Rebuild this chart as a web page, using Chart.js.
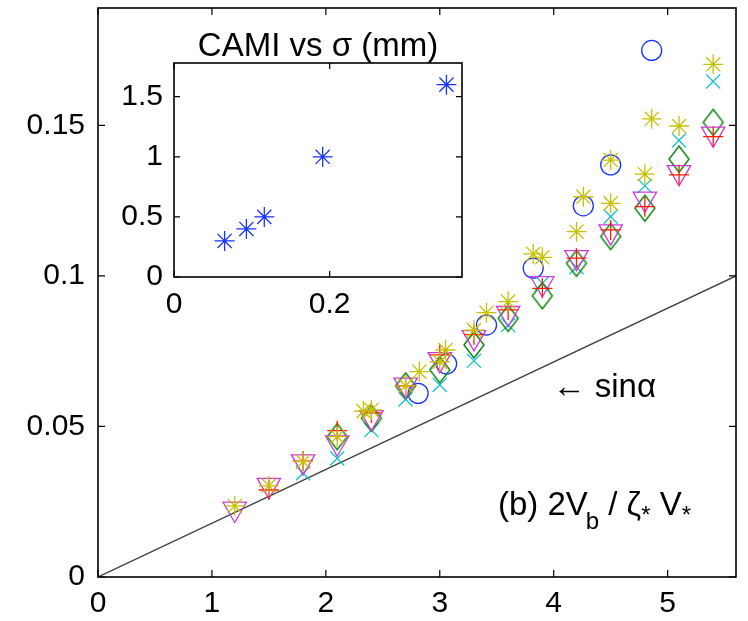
<!DOCTYPE html>
<html><head><meta charset="utf-8">
<script src="https://cdn.jsdelivr.net/npm/chart.js@4.4.1/dist/chart.umd.min.js"></script>
<style>
html,body{margin:0;padding:0;background:#fff;}
#wrap{position:relative;width:748px;height:621px;overflow:hidden;}
#main{position:absolute;left:0;top:0;}
#inset{position:absolute;left:100px;top:0;}
</style></head><body>
<div id="wrap"><canvas id="main" width="748" height="621"></canvas><canvas id="inset" width="380" height="330"></canvas></div>
<script>
// ---- main panel data (null = no visible mark) ----
const gridX      = [1.2, 1.5, 1.8, 2.1, 2.4, 2.7, 3.0, 3.3, 3.6, 3.9, 4.2, 4.5, 4.8, 5.1, 5.4];
const asteriskY  = [0.0236,0.0303,0.0383,0.0466,0.0555,0.0635,0.0715,0.0820,0.0915,0.1062,0.1147,0.1241,0.1338,0.1498,0.1703];
const xmarkY     = [null,null,0.0345,0.0394,0.0488,0.0590,0.0638,0.0718,0.0837,0.0976,0.1029,0.1197,0.1299,0.1450,0.1646];
const diamondY   = [null,null,null,0.0466,0.0527,0.0635,0.0688,0.0771,0.0859,0.0934,0.1042,0.1131,0.1225,0.1388,0.1510];
const plusY      = [null,0.0289,0.0385,0.0486,0.0545,0.0635,0.0738,0.0805,0.0887,0.0959,0.1059,0.1153,0.1230,0.1336,0.1463];
const triangleY  = [0.0226,0.0305,0.0383,0.0446,0.0530,0.0638,0.0723,0.0796,0.0876,0.0975,0.1062,0.1147,0.1256,0.1344,0.1472];
const circleX    = [2.81, 3.06, 3.41, 3.82, 4.26, 4.50, 4.86];
const circleY    = [0.0610,0.0708,0.0837,0.1026,0.1233,0.1369,0.1749];
const asterisk2X = [2.33, 2.82, 3.05, 3.41, 3.82, 4.26, 4.50, 4.86];
const asterisk2Y = [0.0551,0.0682,0.0754,0.0878,0.1073,0.1263,0.1385,0.1522];
const sinX = [0, 5.6];
const sinY = [0, 0.1];
const mainXTicks = [0, 1, 2, 3, 4, 5];
const mainYTicks = [0, 0.05, 0.1, 0.15];
// ---- inset data ----
const sigmaMM = [0.065, 0.093, 0.116, 0.191, 0.350];
const cami    = [0.30, 0.40, 0.50, 1.00, 1.60];
const insetXTicks = [0, 0.2];
const insetYTicks = [0, 0.5, 1, 1.5];

const FONT = "'Liberation Sans', Arial, Helvetica, sans-serif";
const COL = {blue:'#1733ff', green:'#0a800a', red:'#ff1a00', cyan:'#10c4cc', magenta:'#c83cd6', yellow:'#c8c000', line:'#404040'};

function pts(xs, ys){ return xs.map((x,i)=>({x:x, y:ys[i]})).filter(p=>p.y !== null); }
function fmt(v){ return String(parseFloat(Number(v).toFixed(4))); }

// tall diamond marker like MATLAB 'd'
function diamondImg(color){
  const c = document.createElement('canvas'); c.width = 24; c.height = 30;
  const g = c.getContext('2d'); g.strokeStyle = color; g.lineWidth = 1.4;
  g.beginPath(); g.moveTo(2,15); g.lineTo(12,2); g.lineTo(22,15); g.lineTo(12,28); g.closePath(); g.stroke();
  return c;
}

function markerSet(data, style, color, r, extra){
  return Object.assign({data:data, pointStyle:style, pointRadius:r, pointHoverRadius:r,
    borderColor:color, backgroundColor:'rgba(0,0,0,0)', borderWidth:1.3, pointBorderWidth:1.3, showLine:false}, extra||{});
}

const framePlugin = {
  id:'frame',
  beforeDraw(chart, args, o){
    if (o.fill){ const a = chart.chartArea, ctx = chart.ctx; ctx.save(); ctx.fillStyle = '#fff';
      ctx.fillRect(a.left, a.top, a.right-a.left, a.bottom-a.top); ctx.restore(); }
  },
  afterDraw(chart, args, o){
    const a = chart.chartArea, ctx = chart.ctx, sx = chart.scales.x, sy = chart.scales.y, L = o.tick;
    ctx.save(); ctx.strokeStyle = '#000'; ctx.lineWidth = o.lw; ctx.lineCap = 'butt';
    ctx.strokeRect(a.left, a.top, a.right-a.left, a.bottom-a.top);
    ctx.lineWidth = 1.2; ctx.beginPath();
    sx.ticks.forEach(t=>{ const p = sx.getPixelForValue(t.value);
      ctx.moveTo(p, a.bottom); ctx.lineTo(p, a.bottom-L); ctx.moveTo(p, a.top); ctx.lineTo(p, a.top+L); });
    sy.ticks.forEach(t=>{ const p = sy.getPixelForValue(t.value);
      ctx.moveTo(a.left, p); ctx.lineTo(a.left+L, p); ctx.moveTo(a.right, p); ctx.lineTo(a.right-L, p); });
    ctx.stroke(); ctx.restore();
  }
};

const notesPlugin = {
  id:'notes',
  afterDraw(chart, args, o){
    const ctx = chart.ctx, sx = chart.scales.x, sy = chart.scales.y;
    ctx.save(); ctx.fillStyle = '#000'; ctx.textBaseline = 'alphabetic'; ctx.textAlign = 'left';
    (o.items||[]).forEach(it=>{
      let x = sx.getPixelForValue(it.x), y = sy.getPixelForValue(it.y);
      it.parts.forEach(p=>{
        ctx.font = (p.size||31) + 'px ' + FONT;
        ctx.fillText(p.t, x + (p.dx||0), y + (p.dy||0));
        x += ctx.measureText(p.t).width + (p.dx||0);
      });
    });
    ctx.restore();
  }
};

function axisCfg(min, max, ticksArr, fitKey, fitVal, pad, size){
  return {type:'linear', min:min, max:max,
    grid:{display:false, drawTicks:false}, border:{display:false},
    afterBuildTicks: s=>{ s.ticks = ticksArr.map(v=>({value:v})); },
    afterFit: s=>{ s[fitKey] = fitVal; s.paddingTop = 0; s.paddingBottom = 0; s.paddingLeft = 0; s.paddingRight = 0; },
    ticks:{padding:pad, color:'#000', font:{family:FONT, size:size}, callback:v=>fmt(v), maxRotation:0, autoSkip:false, includeBounds:false}};
}

new Chart(document.getElementById('main'), {
  type:'scatter',
  data:{datasets:[
    markerSet(pts(gridX, asteriskY), 'star', COL.yellow, 10),
    markerSet(pts(asterisk2X, asterisk2Y), 'star', COL.yellow, 10),
    markerSet(pts(gridX, plusY), 'cross', COL.red, 10),
    markerSet(pts(gridX, triangleY), 'triangle', COL.magenta, 13.5, {rotation:180}),
    markerSet(pts(gridX, diamondY), diamondImg(COL.green), COL.green, 12),
    markerSet(pts(gridX, xmarkY), 'crossRot', COL.cyan, 10),
    markerSet(pts(circleX, circleY), 'circle', COL.blue, 10),
    {data:pts(sinX, sinY), showLine:true, borderColor:COL.line, borderWidth:1.3, pointRadius:0, pointHoverRadius:0, fill:false}
  ]},
  options:{
    responsive:false, animation:false, events:[],
    layout:{autoPadding:false, padding:{left:0, right:12, top:8, bottom:0}},
    plugins:{legend:{display:false}, tooltip:{enabled:false},
      frame:{lw:1.6, tick:7, fill:false},
      notes:{items:[
        {x:3.99, y:0.0598, parts:[{t:'\u2190 sin\u03b1', size:33}]},
        {x:3.51, y:0.0206, parts:[
          {t:'(b) 2V', size:33}, {t:'b', size:24, dy:14, dx:-2}, {t:' / \u03b6', size:33},
          {t:'*', size:24, dy:8}, {t:' V', size:33}, {t:'*', size:24, dy:8}]}
      ]}
    },
    scales:{
      x: axisCfg(0, 5.6, mainXTicks, 'height', 44, 9, 30),
      y: axisCfg(0, 0.189, mainYTicks, 'width', 98, 13, 30)
    }
  },
  plugins:[framePlugin, notesPlugin]
});

new Chart(document.getElementById('inset'), {
  type:'scatter',
  data:{datasets:[ markerSet(pts(sigmaMM, cami), 'star', COL.blue, 10) ]},
  options:{
    responsive:false, animation:false, events:[],
    layout:{autoPadding:false, padding:{left:0, right:18, top:0, bottom:0}},
    plugins:{legend:{display:false}, tooltip:{enabled:false},
      title:{display:true, text:'CAMI vs \u03c3 (mm)', fullSize:false, color:'#000',
        font:{family:FONT, size:33, weight:'normal', lineHeight:1}, padding:{top:30, bottom:0}},
      frame:{lw:1.6, tick:6, fill:true}
    },
    scales:{
      x: axisCfg(0, 0.37, insetXTicks, 'height', 53, 10, 30),
      y: axisCfg(0, 1.78, insetYTicks, 'width', 74, 11, 30)
    }
  },
  plugins:[framePlugin]
});
</script>
</body></html>
